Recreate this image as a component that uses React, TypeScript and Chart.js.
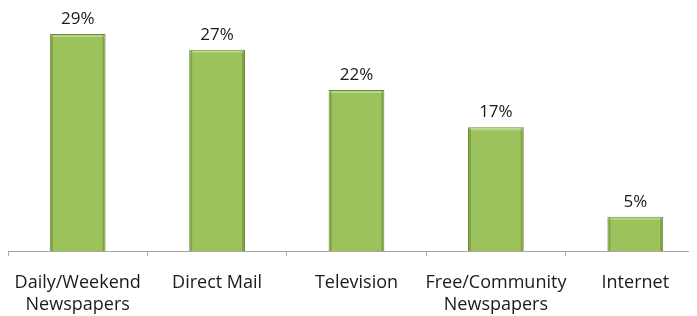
import React, { useEffect, useRef } from "react";
import { Chart, registerables } from "chart.js";

Chart.register(...registerables);

const categories: (string | string[])[] = [
  ["Daily/Weekend", "Newspapers"],
  "Direct Mail",
  "Television",
  ["Free/Community", "Newspapers"],
  "Internet",
];
const values = [29.1, 27.0, 21.6, 16.6, 4.6];
const valueLabels = ["29%", "27%", "22%", "17%", "5%"];

const FONT = "'Open Sans', 'Noto Sans', sans-serif";

const labelPlugin = {
  id: "valueLabels",
  afterDatasetsDraw(chart: any) {
    const ctx = chart.ctx;
    const meta = chart.getDatasetMeta(0);
    ctx.save();
    meta.data.forEach((bar: any) => {
      const left = bar.x - bar.width / 2;
      const right = bar.x + bar.width / 2;
      const top = bar.y;
      const bottom = bar.base;
      ctx.fillStyle = "rgba(255,255,255,0.3)";
      ctx.fillRect(left + 1, top + 1, right - left - 2, 2);
      ctx.fillStyle = "rgba(60,90,20,0.3)";
      ctx.fillRect(left + 1, top + 1, 2, bottom - top - 1);
      ctx.fillRect(right - 3, top + 1, 2, bottom - top - 1);
    });
    ctx.fillStyle = "#1a1a1a";
    ctx.font = `17px ${FONT}`;
    ctx.textAlign = "center";
    ctx.textBaseline = "middle";
    meta.data.forEach((bar: any, i: number) => {
      ctx.fillText(valueLabels[i], bar.x, bar.y - 15);
    });
    ctx.restore();
  },
};

export default function App() {
  const ref = useRef<HTMLCanvasElement>(null);
  useEffect(() => {
    const chart = new Chart(ref.current!, {
      type: "bar",
      data: {
        labels: categories,
        datasets: [
          {
            data: values,
            backgroundColor: "#9cc25c",
            borderColor: "#6c8a36",
            borderWidth: 1,
            barPercentage: 0.4,
            categoryPercentage: 1,
          },
        ],
      },
      options: {
        responsive: false,
        animation: false,
        layout: { padding: 0 },
        plugins: { legend: { display: false }, tooltip: { enabled: false } },
        scales: {
          y: { display: false, min: 0, max: 32.6 },
          x: {
            afterFit: (s: any) => {
              s.height = 65;
              s.paddingLeft = 0;
              s.paddingRight = 0;
            },
            grid: {
              drawOnChartArea: false,
              tickLength: 5,
              color: "#b0b0b0",
              offset: true,
            },
            border: { color: "#a6a6a6", width: 1 },
            ticks: {
              color: "#1a1a1a",
              font: { family: FONT, size: 18, lineHeight: 1.22 },
              padding: 16,
              maxRotation: 0,
              autoSkip: false,
            },
          },
        },
      },
      plugins: [labelPlugin],
    });
    return () => chart.destroy();
  }, []);
  return (
    <div style={{ width: 689, height: 308, overflow: "hidden" }}>
      <canvas ref={ref} width={697} height={308} style={{ display: "block" }} />
    </div>
  );
}
